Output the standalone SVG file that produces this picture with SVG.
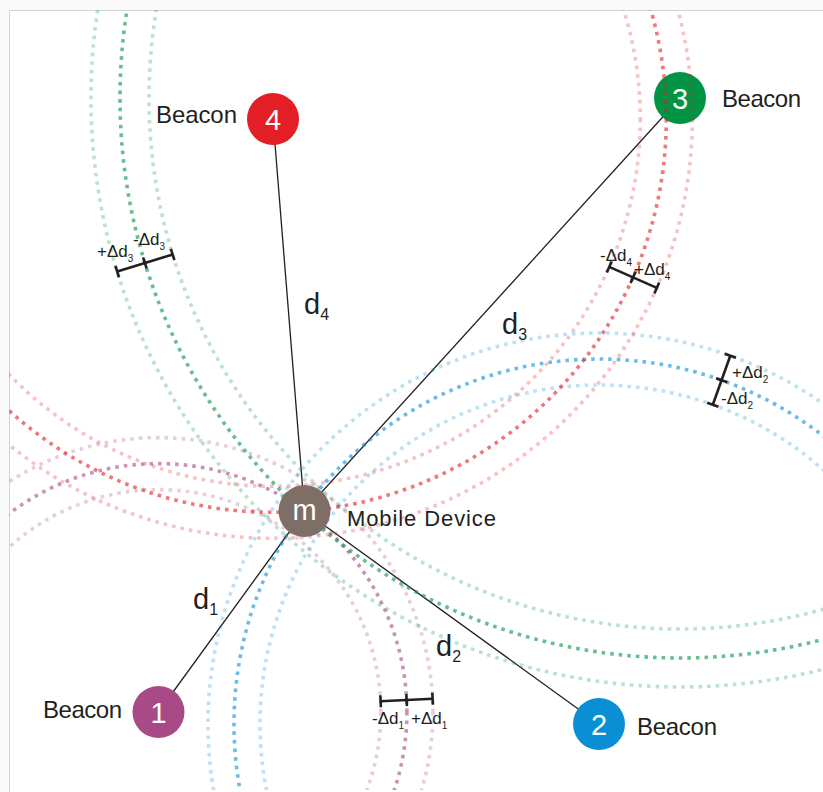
<svg xmlns="http://www.w3.org/2000/svg" width="823" height="792" viewBox="0 0 823 792">
<style>
.main{fill:none;stroke-width:3.6;stroke-dasharray:3.6 5;stroke-opacity:0.6}
.lite{fill:none;stroke-width:3.6;stroke-dasharray:3.6 5;stroke-opacity:0.27}
.pu{stroke:#a84a86}.bl{stroke:#0a8fd4}.gr{stroke:#009444}.rd{stroke:#e31e24}
.link{stroke:#231f20;stroke-width:1.3;fill:none}
.br{stroke:#231f20;stroke-width:2.6;fill:none}
.lbl{font-family:"Liberation Sans",Arial,sans-serif;fill:#231f20}
.num{font-family:"Liberation Sans",Arial,sans-serif;fill:#ffffff;font-size:29px;text-anchor:middle}
.dl{font-family:"Liberation Sans",Arial,sans-serif;fill:#231f20;font-size:17px}
</style>
<defs>
<clipPath id="frame"><rect x="9" y="10" width="814" height="780"/></clipPath>
</defs>
<rect x="0" y="0" width="823" height="792" fill="#fafafa"/>
<rect x="9.5" y="10.5" width="830" height="800" fill="#ffffff" stroke="#d4d4d4" stroke-width="1"/>

<g id="connectors">
<line class="link" x1="304.5" y1="511" x2="158.5" y2="712"/>
<line class="link" x1="304.5" y1="511" x2="599" y2="724"/>
<line class="link" x1="304.5" y1="511" x2="680" y2="98"/>
<line class="link" x1="304.5" y1="511" x2="273" y2="119"/>
</g>

<g id="beacon1"><circle cx="158.5" cy="712" r="26" fill="#a84a86"/><text class="num" x="158.5" y="722.5">1</text><text class="lbl" x="43" y="718" font-size="24" textLength="79">Beacon</text></g>
<g id="beacon2"><circle cx="599" cy="724" r="26" fill="#0a8fd4"/><text class="num" x="599" y="734.5">2</text><text class="lbl" x="637" y="735" font-size="24" textLength="80">Beacon</text></g>
<g id="beacon3"><circle cx="680" cy="98" r="26" fill="#009444"/><text class="num" x="680" y="108.5">3</text><text class="lbl" x="722" y="107" font-size="24" textLength="79">Beacon</text></g>
<g id="beacon4"><circle cx="273" cy="119" r="26" fill="#e31e24"/><text class="num" x="273" y="129.5">4</text><text class="lbl" x="156" y="123" font-size="24" textLength="81">Beacon</text></g>

<g id="ranges" clip-path="url(#frame)">
<circle class="lite pu" cx="158.5" cy="712" r="222.4"/>
<circle class="lite pu" cx="158.5" cy="712" r="274.4"/>
<circle class="main pu" cx="158.5" cy="712" r="248.4"/>
<circle class="lite bl" cx="599" cy="724" r="339"/>
<circle class="lite bl" cx="599" cy="724" r="391"/>
<circle class="main bl" cx="599" cy="724" r="365"/>
<circle class="lite gr" cx="680" cy="98" r="531"/>
<circle class="lite gr" cx="680" cy="98" r="589"/>
<circle class="main gr" cx="680" cy="98" r="560"/>
<circle class="lite rd" cx="273" cy="119" r="367.3"/>
<circle class="lite rd" cx="273" cy="119" r="419.3"/>
<circle class="main rd" cx="273" cy="119" r="393.3"/>
</g>

<g id="mobile"><circle cx="304.5" cy="511" r="26" fill="#7f6e66"/><text class="num" x="304.5" y="519.5" font-size="30">m</text><text class="lbl" x="347" y="526" font-size="22" textLength="149">Mobile Device</text></g>

<g id="distance-labels">
<text class="lbl" x="304" y="314" font-size="29">d<tspan font-size="16" dy="6">4</tspan></text>
<text class="lbl" x="502" y="334" font-size="29">d<tspan font-size="16" dy="6">3</tspan></text>
<text class="lbl" x="193" y="609" font-size="29">d<tspan font-size="16" dy="6">1</tspan></text>
<text class="lbl" x="436" y="656" font-size="29">d<tspan font-size="16" dy="6">2</tspan></text>
</g>

<g id="brackets">
<line class="br" x1="117.2" y1="271.6" x2="172.6" y2="254.5"/>
<line class="br" x1="115.4" y1="265.9" x2="119.0" y2="277.3"/>
<line class="br" x1="143.1" y1="257.3" x2="146.7" y2="268.7"/>
<line class="br" x1="170.8" y1="248.8" x2="174.4" y2="260.2"/>
<text class="dl" x="97" y="257">+Δd<tspan font-size="10" dy="5">3</tspan></text>
<text class="dl" x="133" y="245">-Δd<tspan font-size="10" dy="5">3</tspan></text>

<line class="br" x1="656.8" y1="287.9" x2="609.2" y2="266.9"/>
<line class="br" x1="659.2" y1="282.4" x2="654.4" y2="293.4"/>
<line class="br" x1="635.4" y1="271.9" x2="630.6" y2="282.9"/>
<line class="br" x1="611.6" y1="261.4" x2="606.8" y2="272.4"/>
<text class="dl" x="600" y="261">-Δd<tspan font-size="10" dy="5">4</tspan></text>
<text class="dl" x="634" y="275">+Δd<tspan font-size="10" dy="5">4</tspan></text>

<line class="br" x1="730.3" y1="355.7" x2="712.8" y2="404.7"/>
<line class="br" x1="724.7" y1="353.7" x2="736.0" y2="357.7"/>
<line class="br" x1="716.0" y1="378.2" x2="727.3" y2="382.2"/>
<line class="br" x1="707.2" y1="402.7" x2="718.5" y2="406.7"/>
<text class="dl" x="732" y="378">+Δd<tspan font-size="10" dy="5">2</tspan></text>
<text class="dl" x="721" y="404">-Δd<tspan font-size="10" dy="5">2</tspan></text>

<line class="br" x1="432.6" y1="698.8" x2="380.6" y2="701.3"/>
<line class="br" x1="432.3" y1="692.8" x2="432.9" y2="704.8"/>
<line class="br" x1="406.3" y1="694.1" x2="406.9" y2="706.1"/>
<line class="br" x1="380.3" y1="695.3" x2="380.9" y2="707.3"/>
<text class="dl" x="372" y="724">-Δd<tspan font-size="10" dy="5">1</tspan></text>
<text class="dl" x="411" y="724">+Δd<tspan font-size="10" dy="5">1</tspan></text>
</g>
</svg>
